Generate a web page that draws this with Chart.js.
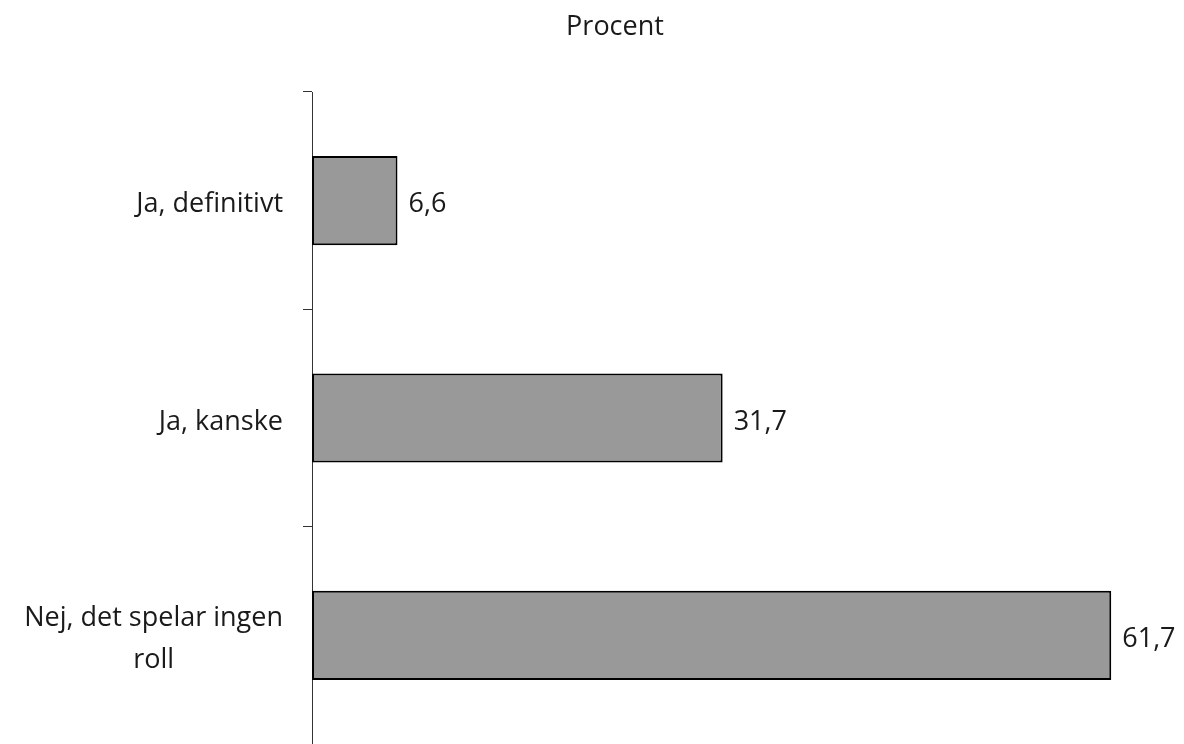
<!DOCTYPE html>
<html lang="sv">
<head>
    <meta charset="UTF-8">
    <title>Procent</title>
    <script src="https://cdn.jsdelivr.net/npm/chart.js"></script>
    <style>
        html, body { margin: 0; padding: 0; background: #fff; overflow: hidden; }
        #wrap { width: 1184px; height: 744px; }
    </style>
</head>
<body>
    <div id="wrap"><canvas id="chart" width="1184" height="744"></canvas></div>

    <script>
        const categories = ['Ja, definitivt', 'Ja, kanske', ['Nej, det spelar ingen', 'roll']];
        const values = [6.6, 31.7, 61.7];
        const titleText = 'Procent';

        const FONT = '"Open Sans", "DejaVu Sans", sans-serif';
        const FONT_SIZE = 27;
        const TEXT = '#1a1a1a';

        // title, value labels and category labels drawn by hand
        const textLayer = {
            id: 'textLayer',
            afterDraw(chart) {
                const ctx = chart.ctx;
                const area = chart.chartArea;
                const meta = chart.getDatasetMeta(0);
                const scale = chart.scales.y;
                const dy = 4; // optical nudge, middle baseline sits a bit high
                ctx.save();
                ctx.font = FONT_SIZE + 'px ' + FONT;
                ctx.fillStyle = TEXT;
                ctx.textBaseline = 'middle';

                ctx.textAlign = 'center';
                ctx.fillText(titleText, 615, 27);

                ctx.textAlign = 'left';
                meta.data.forEach((bar, i) => {
                    ctx.fillText(values[i].toFixed(1).replace('.', ','), bar.x + 11, bar.y + dy);
                });

                // block right-aligned, lines centred inside the block
                const right = area.left - 29;
                const lh = 42;
                ctx.textAlign = 'center';
                categories.forEach((c, i) => {
                    const lines = Array.isArray(c) ? c : [c];
                    const w = Math.max(...lines.map(l => ctx.measureText(l).width));
                    const cx = right - w / 2;
                    const y0 = scale.getPixelForTick(i) - (lines.length - 1) * lh / 2 + dy;
                    lines.forEach((l, k) => ctx.fillText(l, cx, y0 + k * lh));
                });
                ctx.restore();
            }
        };

        new Chart(document.getElementById('chart'), {
            type: 'bar',
            data: {
                labels: categories,
                datasets: [{
                    data: values,
                    backgroundColor: '#999999',
                    borderColor: '#000000',
                    borderWidth: 2,
                    borderSkipped: false,
                    barPercentage: 0.41,
                    categoryPercentage: 1
                }]
            },
            options: {
                indexAxis: 'y',
                responsive: false,
                animation: false,
                layout: { padding: { left: 0, right: 30, top: 92, bottom: 0 } },
                plugins: {
                    legend: { display: false },
                    tooltip: { enabled: false },
                    title: { display: false }
                },
                scales: {
                    x: {
                        display: false,
                        min: 0,
                        max: 65
                    },
                    y: {
                        afterFit(scale) { scale.width = 312; },
                        border: { display: true, color: '#333333', width: 1 },
                        grid: {
                            display: true,
                            offset: true,
                            drawOnChartArea: false,
                            drawTicks: true,
                            tickLength: 9,
                            color: '#333333'
                        },
                        ticks: { display: false }
                    }
                }
            },
            plugins: [textLayer]
        });
    </script>
</body>
</html>
